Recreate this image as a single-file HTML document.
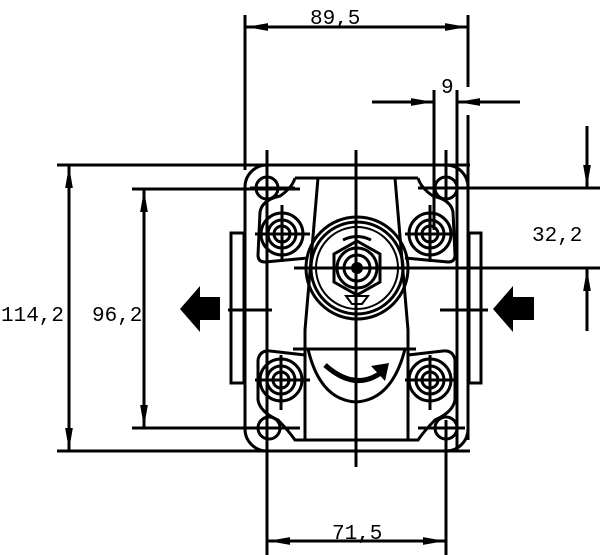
<!DOCTYPE html>
<html><head><style>html,body{margin:0;padding:0;background:#fff}svg{display:block}</style></head><body>
<svg width="600" height="555" viewBox="0 0 600 555" xmlns="http://www.w3.org/2000/svg">
<defs>
<marker id="a" viewBox="0 0 20 10" refX="20" refY="5" markerWidth="22" markerHeight="11" markerUnits="userSpaceOnUse" orient="auto-start-reverse"><path d="M0,1.5 L20,5 L0,8.5z" fill="#000"/></marker>
</defs>
<g stroke="#000" stroke-width="3" fill="none">
<line x1="245" y1="15" x2="245" y2="170"/>
<line x1="468" y1="15" x2="468" y2="87"/>
<line x1="468" y1="115" x2="468" y2="440"/>
<line x1="57" y1="165" x2="470" y2="165"/>
<line x1="57" y1="451" x2="470" y2="451"/>
<line x1="132" y1="189" x2="300" y2="189"/>
<line x1="132" y1="428" x2="300" y2="428"/>
<line x1="420" y1="188" x2="600" y2="188"/>
<line x1="294" y1="268" x2="600" y2="268"/>
<line x1="267" y1="150" x2="267" y2="555"/>
<line x1="446" y1="420" x2="446" y2="555"/>
<line x1="434" y1="90" x2="434" y2="230"/>
<line x1="457" y1="90" x2="457" y2="450"/>
<line x1="446" y1="150" x2="446" y2="200"/>
<line x1="356" y1="150" x2="356" y2="467"/>
<line x1="282" y1="205" x2="282" y2="262"/>
<line x1="430" y1="205" x2="430" y2="262"/>
<line x1="281" y1="355" x2="281" y2="410"/>
<line x1="430" y1="355" x2="430" y2="410"/>
<line x1="293" y1="349" x2="416" y2="349"/>
<line x1="255" y1="234" x2="310" y2="234"/>
<line x1="405" y1="234" x2="455" y2="234"/>
<line x1="255" y1="380" x2="310" y2="380"/>
<line x1="405" y1="380" x2="455" y2="380"/>
<line x1="228" y1="310" x2="272" y2="310"/>
<line x1="440" y1="310" x2="488" y2="310"/>
<line x1="246" y1="27" x2="467" y2="27" marker-start="url(#a)" marker-end="url(#a)"/>
<line x1="268" y1="541" x2="445" y2="541" marker-start="url(#a)" marker-end="url(#a)"/>
<line x1="69" y1="166" x2="69" y2="450" marker-start="url(#a)" marker-end="url(#a)"/>
<line x1="144" y1="190" x2="144" y2="427" marker-start="url(#a)" marker-end="url(#a)"/>
<line x1="372" y1="102" x2="433" y2="102" marker-end="url(#a)"/>
<line x1="520" y1="102" x2="458" y2="102" marker-end="url(#a)"/>
<line x1="587" y1="126" x2="587" y2="187" marker-end="url(#a)"/>
<line x1="587" y1="331" x2="587" y2="269" marker-end="url(#a)"/>
<rect x="245" y="165" width="223" height="286" rx="22"/>
<rect x="231" y="233" width="13" height="150"/>
<rect x="469" y="233" width="12" height="150"/>
<path d="M295,178 Q292,188 280,196 Q262,200 260,212 L258,255 Q258,262 265,262 L308,258"/>
<path d="M418,178 Q421,188 433,196 Q451,200 453,212 L455,255 Q455,262 448,262 L405,258"/>
<path d="M295,178 L318,178 L305,330 L305,440 L295,440 Q288,430 278,420 Q260,412 258,400 L258,360 Q260,350 270,351 L305,355"/>
<path d="M418,178 L395,178 L408,330 L408,440 L418,440 Q425,430 435,420 Q453,412 455,400 L455,360 Q453,350 443,351 L408,355"/>
<line x1="318" y1="178" x2="395" y2="178"/>
<line x1="305" y1="440" x2="408" y2="440"/>
<path d="M308,349 Q320,400 356,402 Q392,400 405,349"/>
<circle cx="267" cy="188" r="11"/><circle cx="446" cy="188" r="11"/>
<circle cx="269" cy="428" r="11"/><circle cx="446" cy="428" r="11"/>
<line x1="250" y1="188" x2="295" y2="188"/>
<line x1="418" y1="188" x2="465" y2="188"/>
<line x1="250" y1="428" x2="295" y2="428"/>
<line x1="418" y1="428" x2="465" y2="428"/>
<circle cx="282" cy="234" r="21"/><circle cx="282" cy="234" r="14"/><circle cx="282" cy="234" r="8"/>
<circle cx="430" cy="234" r="21"/><circle cx="430" cy="234" r="14"/><circle cx="430" cy="234" r="8"/>
<circle cx="281" cy="380" r="21"/><circle cx="281" cy="380" r="14"/><circle cx="281" cy="380" r="8"/>
<circle cx="430" cy="380" r="21"/><circle cx="430" cy="380" r="14"/><circle cx="430" cy="380" r="8"/>
<circle cx="357" cy="268" r="51"/><circle cx="357" cy="268" r="46"/><circle cx="357" cy="268" r="41" stroke-width="2"/>
<polygon points="357,241 380,254 380,282 357,295 334,282 334,254" stroke-width="3"/>
<circle cx="357" cy="268" r="20"/><circle cx="357" cy="268" r="13"/>
<path d="M343,240 Q357,233 371,240" stroke-width="3"/>
<path d="M346,296 L368,296 L362,304 L352,304z" stroke-width="2"/>
</g>
<circle cx="357" cy="268" r="6" fill="#000"/>
<path d="M325,365 Q355,392 382,372" stroke="#000" stroke-width="5" fill="none"/>
<path d="M371,366 L389,363 L385,381z" fill="#000"/>
<path d="M180,309 L200,286 L200,297 L220,297 L220,320 L200,320 L200,332z" fill="#000"/>
<path d="M493,309 L513,286 L513,297 L534,297 L534,320 L513,320 L513,332z" fill="#000"/>
<g font-family="Liberation Mono, monospace" font-size="21" fill="#000">
<text x="310" y="24">89,5</text>
<text x="332" y="539">71,5</text>
<text x="1" y="321">114,2</text>
<text x="92" y="321">96,2</text>
<text x="532" y="241">32,2</text>
<text x="441" y="93">9</text>
</g>
</svg>
</body></html>
